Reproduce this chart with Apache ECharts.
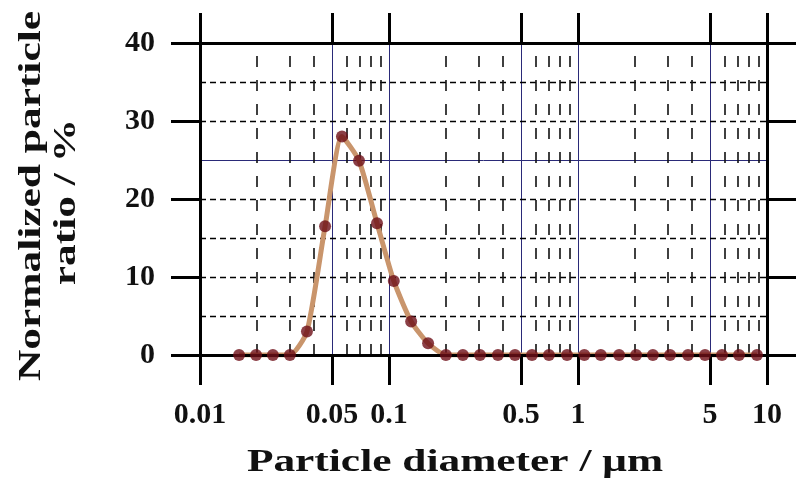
<!DOCTYPE html>
<html><head><meta charset="utf-8">
<script src="https://cdn.jsdelivr.net/npm/echarts@6/dist/echarts.min.js"></script>
<style>html,body{margin:0;padding:0;background:#fff}#c{width:796px;height:495px}</style>
</head><body><div id="c"></div>
<script>
const diameters = [0.0161,0.0198,0.0243,0.0299,0.0368,0.0459,0.0564,0.0694,0.0864,0.106,0.131,0.161,0.200,0.246,0.303,0.377,0.464,0.571,0.702,0.875,1.08,1.32,1.65,2.03,2.49,3.07,3.82,4.70,5.78,7.11,8.85];
const ratios = [0,0,0,0,3.0,16.5,28.0,24.9,16.9,9.5,4.3,1.5,0,0,0,0,0,0,0,0,0,0,0,0,0,0,0,0,0,0,0];
const xTickValues = [0.01,0.05,0.1,0.5,1,5,10];
const xTickLabels = ['0.01','0.05','0.1','0.5','1','5','10'];
const xMinorValues = [0.02,0.03,0.04,0.06,0.07,0.08,0.09,0.2,0.3,0.4,0.6,0.7,0.8,0.9,2,3,4,6,7,8,9];
const xSolidValues = [0.05,0.1,0.5,1,5];
const yTickValues = [0,10,20,30,40];
const yDashedValues = [5,10,15,20,30,35];
const ySolidValues = [25];
const xTitle = 'Particle diameter / μm';
const yTitle1 = 'Normalized particle';
const yTitle2 = 'ratio / %';

const FONT = '"Liberation Serif", "Times New Roman", serif';
const pts = diameters.map((d, i) => [d, ratios[i]]);
const fmtX = v => {
  for (let i = 0; i < xTickValues.length; i++) {
    if (Math.abs(Math.log10(v) - Math.log10(xTickValues[i])) < 1e-6) return xTickLabels[i];
  }
  return '';
};
const navy = '#2a2a78';
const gridLines = []
  .concat(xSolidValues.map(v => ({xAxis: v, lineStyle: {color: navy, width: 1, type: 'solid'}})))
  .concat(ySolidValues.map(v => ({yAxis: v, lineStyle: {color: navy, width: 1, type: 'solid'}})))
  .concat(yDashedValues.map(v => ({yAxis: v, lineStyle: {color: '#000', width: 1.3, type: [6, 4]}})))
  .concat(xMinorValues.map(v => ({xAxis: v, lineStyle: {color: '#111', width: 1.6, type: [11, 13]}})));

const baseX = {
  type: 'log', logBase: 10, min: 0.01, max: 10, z: 4,
  axisLine: {show: true, onZero: false, lineStyle: {color: '#000', width: 3}},
  axisTick: {show: true, inside: false, length: 30, customValues: xTickValues, lineStyle: {color: '#000', width: 3}},
  splitLine: {show: false}, minorTick: {show: false}, minorSplitLine: {show: false}
};
const baseY = {
  type: 'value', min: 0, max: 40, interval: 10, z: 4,
  axisLine: {show: true, onZero: false, lineStyle: {color: '#000', width: 3}},
  axisTick: {show: true, inside: false, length: 29, customValues: yTickValues, lineStyle: {color: '#000', width: 3}},
  splitLine: {show: false}
};

const chart = echarts.init(document.getElementById('c'), null, {renderer: 'canvas'});
chart.setOption({
  animation: false,
  backgroundColor: '#fff',
  grid: {left: 200, right: 29, top: 43, bottom: 140, containLabel: false, outerBoundsMode: 'none'},
  xAxis: [
    Object.assign({}, baseX, {position: 'bottom',
      axisLabel: {show: true, customValues: xTickValues, formatter: fmtX, fontFamily: FONT, fontWeight: 'bold', fontSize: 30, color: '#111', margin: 45}}),
    Object.assign({}, baseX, {position: 'top', axisLabel: {show: false}})
  ],
  yAxis: [
    Object.assign({}, baseY, {position: 'left',
      axisLabel: {show: true, customValues: yTickValues, fontFamily: FONT, fontWeight: 'bold', fontSize: 30, color: '#111', margin: 45}}),
    Object.assign({}, baseY, {position: 'right', axisLabel: {show: false}})
  ],
  graphic: [
    {type: 'text', x: 455, y: 463, scaleX: 1.4, z: 10,
     style: {text: xTitle, font: 'bold 31px ' + FONT, fill: '#111', align: 'center', verticalAlign: 'middle', textAlign: 'center', textVerticalAlign: 'middle'}},
    {type: 'text', x: 32, y: 196, rotation: Math.PI / 2, scaleX: 1.4, z: 10,
     style: {text: yTitle1, font: 'bold 31px ' + FONT, fill: '#111', align: 'center', verticalAlign: 'middle', textAlign: 'center', textVerticalAlign: 'middle'}},
    {type: 'text', x: 67, y: 202, rotation: Math.PI / 2, scaleX: 1.4, z: 10,
     style: {text: yTitle2, font: 'bold 31px ' + FONT, fill: '#111', align: 'center', verticalAlign: 'middle', textAlign: 'center', textVerticalAlign: 'middle'}}
  ],
  series: [
    {type: 'line', data: [], silent: true, z: 1,
     markLine: {silent: true, z: 1, symbol: ['none', 'none'], label: {show: false}, animation: false, data: gridLines}},
    {type: 'line', data: pts, smooth: 0.2, showSymbol: false, silent: true, z: 2,
     lineStyle: {color: '#c9956c', width: 5}},
    {type: 'scatter', data: pts, symbol: 'circle', symbolSize: 12, silent: true, z: 5,
     itemStyle: {color: '#6e0f18'}}
  ]
});
</script></body></html>
